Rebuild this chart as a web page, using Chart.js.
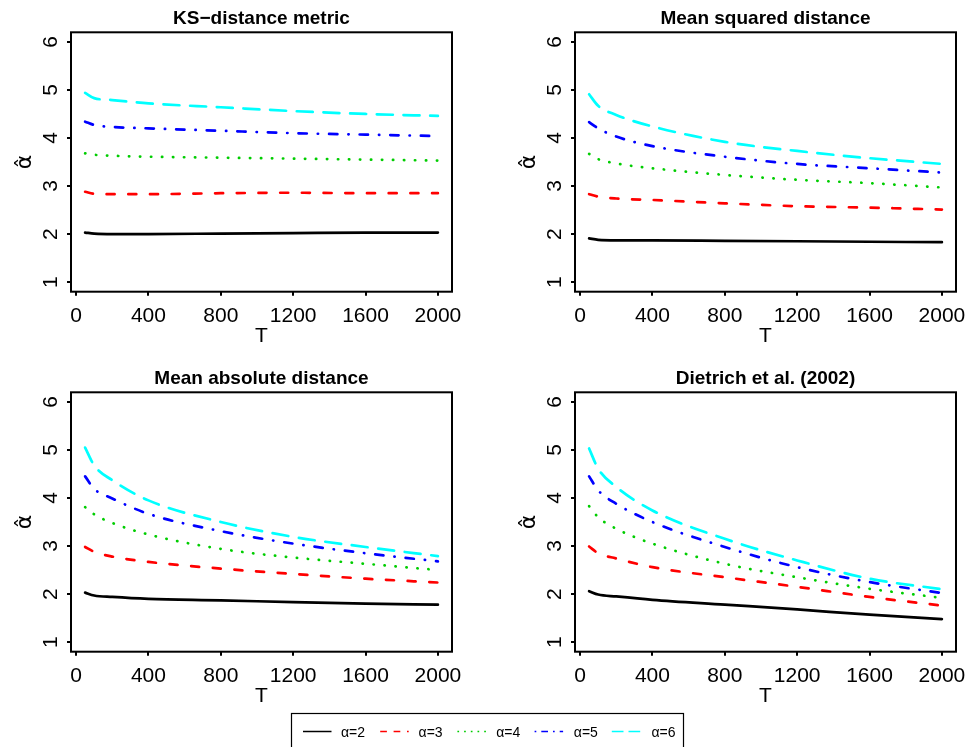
<!DOCTYPE html>
<html><head><meta charset="utf-8">
<script src="https://cdn.jsdelivr.net/npm/chart.js@4.4.1/dist/chart.umd.min.js"></script>
<style>
html,body{margin:0;padding:0;background:#fff;width:967px;height:747px;overflow:hidden;position:relative;font-family:"Liberation Sans",Arial,sans-serif;}
.panel{position:absolute;}
canvas{display:block;}
#legend{position:absolute;left:0;top:0;}
</style></head><body>
<div class="panel" style="left:0;top:0"><canvas id="c1" width="483" height="350"></canvas></div>
<div class="panel" style="left:483px;top:0"><canvas id="c2" width="484" height="350"></canvas></div>
<div class="panel" style="left:0;top:360px"><canvas id="c3" width="483" height="350"></canvas></div>
<div class="panel" style="left:483px;top:360px"><canvas id="c4" width="484" height="350"></canvas></div>
<svg id="legend" width="967" height="747" xmlns="http://www.w3.org/2000/svg"></svg>
<script>
// ---- data ----
const T = [50, 100, 200, 400, 800, 1200, 1600, 2000];
const xTicks = [0, 400, 800, 1200, 1600, 2000];
const yTicks = [1, 2, 3, 4, 5, 6];
const seriesLabels = ['\u03B1=2', '\u03B1=3', '\u03B1=4', '\u03B1=5', '\u03B1=6'];
const panelTitles = ['KS\u2212distance metric', 'Mean squared distance', 'Mean absolute distance', 'Dietrich et al. (2002)'];
const yTitle = '\u03B1\u0302';
const xTitle = 'T';

const ksA2 = [2.03, 2.01, 2.00, 2.00, 2.01, 2.02, 2.03, 2.03];
const ksA3 = [2.88, 2.84, 2.83, 2.83, 2.85, 2.86, 2.85, 2.85];
const ksA4 = [3.68, 3.65, 3.63, 3.61, 3.59, 3.57, 3.55, 3.53];
const ksA5 = [4.34, 4.27, 4.23, 4.20, 4.15, 4.10, 4.07, 4.04];
const ksA6 = [4.94, 4.83, 4.79, 4.72, 4.64, 4.56, 4.50, 4.46];

const msdA2 = [1.91, 1.88, 1.87, 1.87, 1.86, 1.85, 1.84, 1.83];
const msdA3 = [2.83, 2.78, 2.74, 2.71, 2.64, 2.58, 2.55, 2.51];
const msdA4 = [3.67, 3.56, 3.47, 3.37, 3.23, 3.13, 3.06, 2.97];
const msdA5 = [4.33, 4.20, 4.03, 3.83, 3.61, 3.46, 3.37, 3.28];
const msdA6 = [4.91, 4.67, 4.48, 4.24, 3.92, 3.73, 3.58, 3.46];

const madA2 = [2.03, 1.97, 1.94, 1.90, 1.87, 1.83, 1.80, 1.78];
const madA3 = [2.98, 2.88, 2.78, 2.67, 2.53, 2.42, 2.32, 2.24];
const madA4 = [3.81, 3.66, 3.48, 3.24, 2.94, 2.76, 2.63, 2.50];
const madA5 = [4.45, 4.19, 3.99, 3.67, 3.31, 3.05, 2.85, 2.68];
const madA6 = [5.05, 4.68, 4.37, 3.95, 3.50, 3.19, 2.98, 2.79];

const dieA2 = [2.06, 1.99, 1.95, 1.88, 1.78, 1.68, 1.57, 1.48];
const dieA3 = [2.99, 2.85, 2.74, 2.56, 2.35, 2.15, 1.94, 1.76];
const dieA4 = [3.83, 3.60, 3.36, 3.05, 2.63, 2.35, 2.11, 1.92];
const dieA5 = [4.45, 4.16, 3.88, 3.50, 2.98, 2.56, 2.25, 2.02];
const dieA6 = [5.03, 4.61, 4.23, 3.74, 3.15, 2.70, 2.32, 2.10];

// ---- styles ----
const colors = ['#000000', '#FF0000', '#00CD00', '#0000FF', '#00FFFF'];
const dashes = [[], [8, 13.7], [0.3, 10.7], [8.3, 11, 0.3, 11], [16, 10.7]];
const legendDashes = [[], [6.7, 6.7], [1.7, 5], [1.7, 5, 6.7, 5], [11.7, 5]];
const FONT = '"Liberation Sans", Arial, Helvetica, sans-serif';

const rPlugin = {
  id: 'rstyle',
  afterDraw(chart) {
    const {ctx, chartArea: a} = chart;
    const y = chart.scales.y;
    ctx.save();
    ctx.strokeStyle = '#000';
    ctx.lineWidth = 2;
    ctx.strokeRect(a.left, a.top, a.right - a.left, a.bottom - a.top);
    ctx.fillStyle = '#000';
    ctx.font = '21px ' + FONT;
    ctx.textAlign = 'center';
    ctx.textBaseline = 'alphabetic';
    yTicks.forEach(v => {
      const py = y.getPixelForValue(v);
      ctx.save();
      ctx.translate(a.left - 14.3, py);
      ctx.rotate(-Math.PI / 2);
      ctx.fillText(String(v), 0, 0);
      ctx.restore();
    });
    ctx.restore();
  }
};

function makeChart(id, title, series, leftPad, rightPad) {
  const datasets = series.map((vals, i) => ({
    label: seriesLabels[i],
    data: T.map((t, k) => ({x: t, y: vals[k]})),
    borderColor: colors[i],
    borderWidth: 2.7,
    borderDash: dashes[i],
    borderCapStyle: 'round',
    borderJoinStyle: 'round',
    cubicInterpolationMode: 'monotone',
    pointRadius: 0,
    fill: false
  }));
  const gridOpts = {display: true, drawOnChartArea: false, drawTicks: true, tickLength: 4,
    color: '#000', tickColor: '#000', lineWidth: 2, tickWidth: 2};
  return new Chart(document.getElementById(id), {
    type: 'line',
    data: {datasets},
    plugins: [rPlugin],
    options: {
      responsive: false, animation: false, devicePixelRatio: 1,
      layout: {padding: {left: leftPad, right: rightPad, top: 0, bottom: 0}},
      plugins: {
        legend: {display: false},
        tooltip: {enabled: false},
        title: {display: true, text: title, fullSize: false, color: '#000',
          font: {family: FONT, size: 19, weight: 'bold', lineHeight: 1.2},
          padding: {top: 6.9, bottom: 2.6}}
      },
      scales: {
        x: {
          type: 'linear', min: -28, max: 2078,
          border: {display: false},
          grid: gridOpts,
          ticks: {color: '#000', font: {family: FONT, size: 21}, padding: 7.5, maxRotation: 0, autoSkip: false,
            includeBounds: false, callback: v => String(v)},
          afterBuildTicks: s => { s.ticks = xTicks.map(v => ({value: v})); },
          afterFit: s => { s.height = 58.3; s.paddingLeft = 0; s.paddingRight = 0; },
          title: {display: true, text: xTitle, color: '#000', font: {family: FONT, size: 21}, padding: {top: 0, bottom: 0.9}}
        },
        y: {
          type: 'linear', min: 0.8, max: 6.2,
          border: {display: false},
          grid: gridOpts,
          ticks: {display: false},
          afterBuildTicks: s => { s.ticks = yTicks.map(v => ({value: v})); },
          afterFit: s => { s.width = 71; s.paddingTop = 0; s.paddingBottom = 0; },
          title: {display: true, text: yTitle, color: '#000', font: {family: '"DejaVu Sans", sans-serif', size: 22}, padding: {top: 12, bottom: 0}}
        }
      }
    }
  });
}

makeChart('c1', panelTitles[0], [ksA2, ksA3, ksA4, ksA5, ksA6], 0, 31);
makeChart('c2', panelTitles[1], [msdA2, msdA3, msdA4, msdA5, msdA6], 21, 11);
makeChart('c3', panelTitles[2], [madA2, madA3, madA4, madA5, madA6], 0, 31);
makeChart('c4', panelTitles[3], [dieA2, dieA3, dieA4, dieA5, dieA6], 21, 11);

// ---- legend ----
(function () {
  const svg = document.getElementById('legend');
  const NS = 'http://www.w3.org/2000/svg';
  const box = document.createElementNS(NS, 'rect');
  box.setAttribute('x', 291.5); box.setAttribute('y', 713.5);
  box.setAttribute('width', 392); box.setAttribute('height', 50);
  box.setAttribute('fill', 'none'); box.setAttribute('stroke', '#000'); box.setAttribute('stroke-width', 1.2);
  svg.appendChild(box);
  seriesLabels.forEach((lab, i) => {
    const x0 = 303 + 77.2 * i;
    const ln = document.createElementNS(NS, 'line');
    ln.setAttribute('x1', x0); ln.setAttribute('x2', x0 + 28.5);
    ln.setAttribute('y1', 731.5); ln.setAttribute('y2', 731.5);
    ln.setAttribute('stroke', colors[i]); ln.setAttribute('stroke-width', 1.5);
    if (legendDashes[i].length) ln.setAttribute('stroke-dasharray', legendDashes[i].join(' '));
    svg.appendChild(ln);
    const tx = document.createElementNS(NS, 'text');
    tx.setAttribute('x', 341 + 77.6 * i); tx.setAttribute('y', 736.7);
    tx.setAttribute('font-family', 'Liberation Sans, Arial, sans-serif');
    tx.setAttribute('font-size', 14);
    tx.setAttribute('fill', '#000');
    tx.textContent = lab;
    svg.appendChild(tx);
  });
})();
</script>
</body></html>
